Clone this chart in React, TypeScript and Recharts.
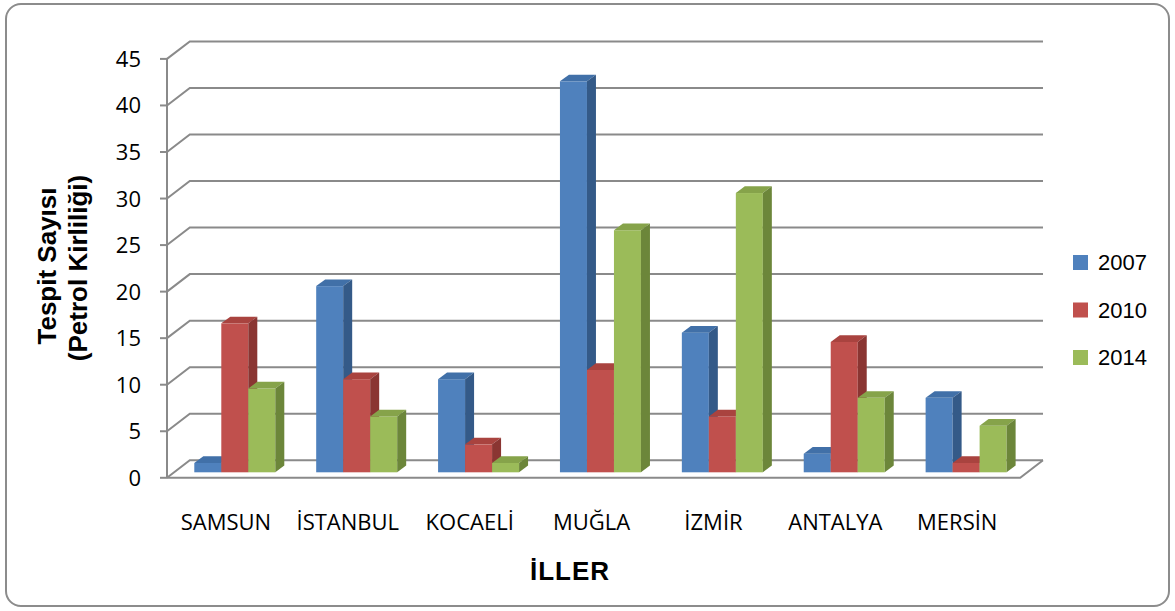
import * as React from 'react';
import { Bar, BarChart, CartesianGrid, Customized, XAxis, YAxis } from 'recharts';

// iller ve yillara gore tespit sayilari
const cities = ['SAMSUN', 'İSTANBUL', 'KOCAELİ', 'MUĞLA', 'İZMİR', 'ANTALYA', 'MERSİN'];
const y2007 = [1, 20, 10, 42, 15, 2, 8];
const y2010 = [16, 10, 3, 11, 6, 14, 1];
const y2014 = [9, 6, 1, 26, 30, 8, 5];
const yTicks = [0, 5, 10, 15, 20, 25, 30, 35, 40, 45];

const data = cities.map((name, i) => ({
    name,
    '2007': y2007[i],
    '2010': y2010[i],
    '2014': y2014[i],
}));

const W = 1175;
const H = 611;
const PLOT_LEFT = 174.3;
const PLOT_RIGHT = 1027.5;
const PLOT_TOP = 53.4;
const PLOT_BOTTOM = 472.3;

// 3d offsets (front plane / back plane relative to the bar plane)
const FRONT_DX = -7.3;
const FRONT_DY = 5.5;
const BACK_DX = 15.5;
const BACK_DY = -12;
const DEPTH_DX = 9;
const DEPTH_DY = -6.7;

const GRID = '#8a8a8a';

const series = [
    { key: '2007', front: '#4F81BD', top: '#4170A8', side: '#345A88' },
    { key: '2010', front: '#C0504D', top: '#A9433F', side: '#8A3532' },
    { key: '2014', front: '#9BBB59', top: '#86A34A', side: '#6C863A' },
];

const makeShape = (top: string, side: string) => (props: any) => {
    const { x, y, width, height, fill } = props;
    if (!height || height <= 0) return <g />;
    return (
        <g>
            <rect x={x} y={y} width={width} height={height} fill={fill} />
            <polygon
                points={`${x},${y} ${x + DEPTH_DX},${y + DEPTH_DY} ${x + width + DEPTH_DX},${y + DEPTH_DY} ${x + width},${y}`}
                fill={top}
            />
            <polygon
                points={`${x + width},${y} ${x + width + DEPTH_DX},${y + DEPTH_DY} ${x + width + DEPTH_DX},${y + height + DEPTH_DY} ${x + width},${y + height}`}
                fill={side}
            />
        </g>
    );
};

const gridLine = (props: any) => {
    const y = props.y1;
    const fy = y + FRONT_DY;
    const by = y + BACK_DY;
    const fx = PLOT_LEFT + FRONT_DX;
    const bx = PLOT_LEFT + BACK_DX;
    const bxr = PLOT_RIGHT + BACK_DX;
    const isFloor = Math.abs(y - PLOT_BOTTOM) < 0.5;
    return (
        <g key={props.key}>
            <polyline points={`${fx},${fy} ${bx},${by} ${bxr},${by}`} fill="none" stroke={GRID} strokeWidth={2} />
            {isFloor && (
                <g>
                    <polyline
                        points={`${fx},${fy} ${PLOT_RIGHT + FRONT_DX},${fy} ${bxr},${by}`}
                        fill="none"
                        stroke={GRID}
                        strokeWidth={2}
                    />
                    <line x1={fx} y1={fy} x2={fx} y2={PLOT_TOP + FRONT_DY} stroke={GRID} strokeWidth={2} />
                </g>
            )}
        </g>
    );
};

const YTick = (props: any) => {
    const { y, payload } = props;
    const fy = y + FRONT_DY;
    const fx = PLOT_LEFT + FRONT_DX;
    return (
        <g>
            <line x1={fx - 7} y1={fy} x2={fx} y2={fy} stroke={GRID} strokeWidth={2} />
            <text x={141} y={fy + 8} textAnchor="end" fontFamily="'Open Sans', sans-serif" fontSize={22} fill="#000">
                {payload.value}
            </text>
        </g>
    );
};

const XTick = (props: any) => {
    const { x, payload } = props;
    return (
        <text x={x + FRONT_DX - 2} y={530} textAnchor="middle" fontFamily="'Open Sans', sans-serif" fontSize={22} fill="#000">
            {payload.value}
        </text>
    );
};

const Titles = () => (
    <g fontFamily="'Liberation Sans', Arial, sans-serif" fill="#000">
        <g fontWeight="bold">
            <text transform="translate(56,266) rotate(-90)" textAnchor="middle" fontSize={26}>
                Tespit Sayısı
            </text>
            <text transform="translate(87,268) rotate(-90)" textAnchor="middle" fontSize={26}>
                (Petrol Kirliliği)
            </text>
            <text x={570} y={580} textAnchor="middle" fontSize={26} letterSpacing={1}>
                İLLER
            </text>
        </g>
        {series.map((s, i) => (
            <g key={s.key}>
                <rect x={1073} y={255 + i * 47.5} width={15} height={15} fill={s.front} />
                <text x={1098} y={270 + i * 47.5} fontSize={22}>
                    {s.key}
                </text>
            </g>
        ))}
    </g>
);

export default function App() {
    return (
        <div style={{ position: 'absolute', left: 0, top: 0, width: W, height: H, background: '#fff' }}>
            <div
                style={{
                    position: 'absolute',
                    left: 5,
                    top: 3,
                    width: 1165,
                    height: 604,
                    border: '2px solid #8c8c8c',
                    borderRadius: 16,
                    boxSizing: 'border-box',
                }}
            />
            <BarChart
                width={W}
                height={H}
                data={data}
                barSize={27}
                barGap={0}
                margin={{ top: PLOT_TOP, left: PLOT_LEFT - 1, right: W - PLOT_RIGHT, bottom: H - PLOT_BOTTOM - 30 }}
            >
                <CartesianGrid vertical={false} horizontal={gridLine} />
                <XAxis dataKey="name" axisLine={false} tickLine={false} height={30} tick={<XTick />} interval={0} />
                <YAxis
                    domain={[0, 45]}
                    ticks={yTicks}
                    width={1}
                    axisLine={false}
                    tickLine={false}
                    tick={<YTick />}
                    interval={0}
                />
                {series.map((s) => (
                    <Bar
                        key={s.key}
                        dataKey={s.key}
                        fill={s.front}
                        isAnimationActive={false}
                        shape={makeShape(s.top, s.side)}
                    />
                ))}
                <Customized component={Titles} />
            </BarChart>
        </div>
    );
}
